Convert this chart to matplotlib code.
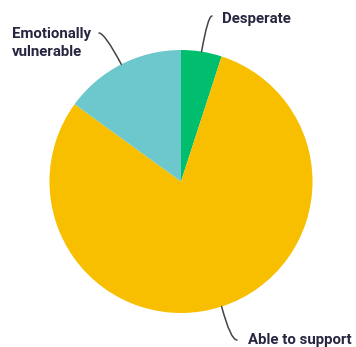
import numpy as np
import matplotlib.pyplot as plt

# slice data, clockwise from 12 o'clock
labels = ['Desperate', 'Able to support', 'Emotionally\nvulnerable']
shares = [5, 80, 15]
colors = ['#00be6e', '#f8bf00', '#6cc8cc']

W, H = 356, 347
CX, CY, R = 181, 181.5, 131.5


def px(x, y):
    # pixel position -> data units of the pie axes
    return (x - CX) / R, (CY - y) / R


fig = plt.figure(figsize=(W / 100, H / 100), dpi=100)
ax = fig.add_axes([0, 0, 1, 1])

wedges, _ = ax.pie(shares, colors=colors, startangle=90, counterclock=False,
                   radius=1, center=(0, 0), frame=True,
                   wedgeprops=dict(linewidth=0))
ax.set_xlim(-CX / R, (W - CX) / R)
ax.set_ylim(-(H - CY) / R, CY / R)
ax.axis('off')

# label text position, leader end, leader bend angles
label_pos = [(222, 19), (248, 340), (12, 43)]
leader_end = [(212, 16), (237, 340), (99, 33)]
bends = [(0, 80), (0, 105), (0, 118)]

txt_kw = dict(fontsize=10.8, fontweight='bold', color='#262640',
              family=['Roboto', 'DejaVu Sans'], va='center', ha='left',
              linespacing=1.3)

for w, lab, lp, le, (a, b) in zip(wedges, labels, label_pos, leader_end, bends):
    mid = np.deg2rad((w.theta1 + w.theta2) / 2)
    edge = (np.cos(mid), np.sin(mid))
    ax.annotate('', xy=edge, xytext=px(*le),
                arrowprops=dict(arrowstyle='-', color='#444444', lw=1.1,
                                shrinkA=0, shrinkB=0,
                                connectionstyle=f'angle3,angleA={a},angleB={b}'))
    ax.text(*px(*lp), lab, **txt_kw)

fig.savefig('out.png', dpi=100)
